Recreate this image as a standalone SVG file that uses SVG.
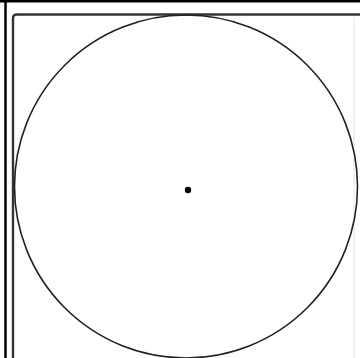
<svg xmlns="http://www.w3.org/2000/svg" width="360" height="358" viewBox="0 0 360 358">
<style>
.outer{stroke:#000;stroke-width:2.5;fill:none}
.inner{stroke:#333;stroke-width:2.4;fill:none}
.faint{stroke:#e2e2e2;stroke-width:1;fill:none}
.circ{stroke:#222;stroke-width:1.6;fill:none}
</style>
<rect width="360" height="358" fill="#fff"/>
<g id="frame">
<line class="outer" x1="0" y1="1.2" x2="360" y2="1.2"/>
<line class="outer" x1="5.5" y1="0" x2="5.5" y2="358"/>
<path class="inner" d="M13,362 V18 Q13,14.5 17,14.5 H362"/>
<line class="faint" x1="354" y1="17" x2="354" y2="358"/>
</g>
<g id="circle">
<circle class="circ" cx="186" cy="186.5" r="171.5"/>
</g>
<g id="center">
<circle cx="188" cy="190" r="3.2" fill="#000"/>
</g>
<g id="connectors"/>
</svg>
